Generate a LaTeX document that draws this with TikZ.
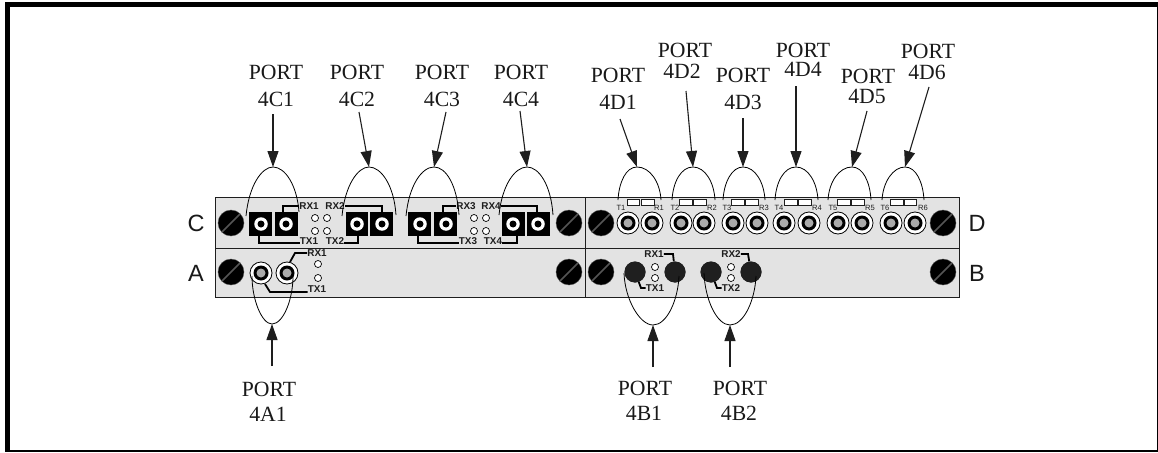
\documentclass[tikz,border=0pt]{standalone}
\usepackage{fontspec}
\setmainfont{Liberation Serif}
\newfontfamily\panelfont{Liberation Sans}
\usetikzlibrary{arrows.meta}
\definecolor{panelgray}{RGB}{227,227,227}
\definecolor{linegray}{RGB}{30,30,30}
\definecolor{slotgray}{RGB}{85,85,85}
\definecolor{coregray}{RGB}{170,170,170}
\tikzset{
  portlbl/.style={anchor=base,inner sep=0pt,text=black!90,font=\fontsize{21.7}{24}\selectfont},
  sidelbl/.style={inner sep=0pt,text=black!90,font=\panelfont\fontsize{23.5}{26}\selectfont},
  smalllbl/.style={inner sep=0pt,text=linegray,font=\panelfont\bfseries\fontsize{9.9}{11}\selectfont},
  tinylbl/.style={inner sep=0pt,text=linegray,font=\panelfont\fontsize{7.6}{9}\selectfont},
  portarrow/.style={draw=linegray,line width=1.1pt,-{Triangle[length=16pt,width=11pt]}},
  portarc/.style={draw=black,line width=0.8pt},
  wire/.style={draw=black,line width=1.8pt},
  screw/.style={circle,fill=black,draw=slotgray,line width=0.4pt,minimum size=26pt,inner sep=0pt,
    path picture={\draw[slotgray,line width=1.5pt] (path picture bounding box.center)+(-9,9) -- +(9,-9);}},
  coax/.style={circle,fill=white,draw=black,line width=0.8pt,minimum size=22pt,inner sep=0pt,
    path picture={\fill[black] (path picture bounding box.center) circle (7.5pt);
      \fill[coregray] (path picture bounding box.center) circle (4.5pt);}},
  fiber/.style={circle,fill=white,minimum size=13.5pt,inner sep=0pt,
    path picture={\fill[black] (path picture bounding box.center) circle (3.5pt);}},
  blackport/.style={circle,fill=black!88,minimum size=21pt,inner sep=0pt},
  led/.style={circle,fill=white,draw=black,line width=0.7pt,minimum size=7pt,inner sep=0pt},
  slot/.style={fill=white,draw=linegray,line width=0.6pt},
  block/.style={fill=black}
}
\begin{document}
\begin{tikzpicture}[x=1pt,y=-1pt]
  \useasboundingbox (0,0) rectangle (1158,452);

  % Cadre
  \fill[black] (5,2) rectangle (1158,452);
  \fill[white] (10,7) rectangle (1156.5,449.5);

  % Panneaux
  \filldraw[fill=panelgray,draw=linegray,line width=1pt] (215,197) rectangle (959,297);
  \draw[linegray,line width=1pt] (215,248) -- (959,248);
  \draw[linegray,line width=1pt] (585,197) -- (585,297);

  % Vis
  \node[screw] (screwCl) at (231,223) {};
  \node[screw] (screwCr) at (569,223) {};
  \node[screw] (screwDl) at (601,223) {};
  \node[screw] (screwDr) at (943,223) {};
  \node[screw] (screwAl) at (231,272) {};
  \node[screw] (screwAr) at (569,272) {};
  \node[screw] (screwBl) at (601,272) {};
  \node[screw] (screwBr) at (943,272) {};

  % Lettres
  \node[sidelbl] (sideC) at (196,223) {C};
  \node[sidelbl] (sideA) at (196,273) {A};
  \node[sidelbl] (sideD) at (977,223) {D};
  \node[sidelbl] (sideB) at (977,273) {B};

  % Blocs C
  \fill[block] (249,212) rectangle (272,236);
  \fill[block] (275,212) rectangle (298,236);
  \fill[block] (346,212) rectangle (368,236);
  \fill[block] (370,212) rectangle (393,236);
  \fill[block] (408,212) rectangle (431,236);
  \fill[block] (434,212) rectangle (457,236);
  \fill[block] (502,212) rectangle (525,236);
  \fill[block] (527,212) rectangle (550,236);
  \node[fiber] (fibC1a) at (261,224) {};
  \node[fiber] (fibC1b) at (286,224) {};
  \node[fiber] (fibC2a) at (357,224) {};
  \node[fiber] (fibC2b) at (382,224) {};
  \node[fiber] (fibC3a) at (420,224) {};
  \node[fiber] (fibC3b) at (446,224) {};
  \node[fiber] (fibC4a) at (513,224) {};
  \node[fiber] (fibC4b) at (538,224) {};

  % Diodes C
  \node[led] (ledC1) at (315,218) {};
  \node[led] (ledC2) at (327,218) {};
  \node[led] (ledC3) at (315,231) {};
  \node[led] (ledC4) at (327,231) {};
  \node[led] (ledC5) at (474,218) {};
  \node[led] (ledC6) at (486,218) {};
  \node[led] (ledC7) at (474,231) {};
  \node[led] (ledC8) at (486,231) {};

  % Textes C
  \node[smalllbl] (rxC1) at (309,206) {RX1};
  \node[smalllbl] (rxC2) at (335,206) {RX2};
  \node[smalllbl] (txC1) at (309,241) {TX1};
  \node[smalllbl] (txC2) at (335,241) {TX2};
  \node[smalllbl] (rxC3) at (466,206) {RX3};
  \node[smalllbl] (rxC4) at (491,206) {RX4};
  \node[smalllbl] (txC3) at (468,241) {TX3};
  \node[smalllbl] (txC4) at (493,241) {TX4};

  % Fils C
  \draw[wire] (rxC1.west) -- (283,206) -- (283,212);
  \draw[wire] (259,236) -- (259,243) -- (txC1.west |- 0,243);
  \draw[wire] (rxC2.east) -- (382,206) -- (382,212);
  \draw[wire] (358,236) -- (358,243) -- (txC2.east |- 0,243);
  \draw[wire] (rxC3.west) -- (443,206) -- (443,212);
  \draw[wire] (418,236) -- (418,243) -- (txC3.west |- 0,243);
  \draw[wire] (rxC4.east) -- (537,206) -- (537,212);
  \draw[wire] (517,236) -- (517,243) -- (txC4.east |- 0,243);

  % Coax D
  \node[coax] (coaxT1) at (628,223) {};
  \node[coax] (coaxR1) at (652,223) {};
  \node[coax] (coaxT2) at (681,223) {};
  \node[coax] (coaxR2) at (704,223) {};
  \node[coax] (coaxT3) at (733,223) {};
  \node[coax] (coaxR3) at (757,223) {};
  \node[coax] (coaxT4) at (784,223) {};
  \node[coax] (coaxR4) at (809,223) {};
  \node[coax] (coaxT5) at (838,223) {};
  \node[coax] (coaxR5) at (862,223) {};
  \node[coax] (coaxT6) at (891,223) {};
  \node[coax] (coaxR6) at (915,223) {};

  % Fentes D
  \draw[slot] (627,199) rectangle (639,205);
  \draw[slot] (641,199) rectangle (654,205);
  \draw[slot] (679,199) rectangle (692,205);
  \draw[slot] (693,199) rectangle (706,205);
  \draw[slot] (731,199) rectangle (744,205);
  \draw[slot] (745,199) rectangle (758,205);
  \draw[slot] (784,199) rectangle (797,205);
  \draw[slot] (798,199) rectangle (811,205);
  \draw[slot] (837,199) rectangle (850,205);
  \draw[slot] (851,199) rectangle (864,205);
  \draw[slot] (890,199) rectangle (903,205);
  \draw[slot] (904,199) rectangle (916,205);

  % Textes D
  \node[tinylbl] (lblT1) at (621,208) {T1};
  \node[tinylbl] (lblR1) at (659,208) {R1};
  \node[tinylbl] (lblT2) at (675,208) {T2};
  \node[tinylbl] (lblR2) at (712,208) {R2};
  \node[tinylbl] (lblT3) at (727,208) {T3};
  \node[tinylbl] (lblR3) at (764,208) {R3};
  \node[tinylbl] (lblT4) at (779,208) {T4};
  \node[tinylbl] (lblR4) at (817,208) {R4};
  \node[tinylbl] (lblT5) at (833,208) {T5};
  \node[tinylbl] (lblR5) at (870,208) {R5};
  \node[tinylbl] (lblT6) at (885,208) {T6};
  \node[tinylbl] (lblR6) at (923,208) {R6};

  % Rangee A
  \node[coax] (coaxA1) at (261,273) {};
  \node[coax] (coaxA2) at (287,273) {};
  \node[led] (ledA1) at (318,264) {};
  \node[led] (ledA2) at (318,278) {};
  \node[smalllbl] (rxA1) at (317,253) {RX1};
  \node[smalllbl] (txA1) at (317,289) {TX1};
  \draw[wire] (rxA1.west) -- (295,253) -- (290,262);
  \draw[wire] (265,284) -- (270,292) -- (txA1.west |- 0,292);

  % Rangee B
  \node[blackport] (blkB1) at (635,272) {};
  \node[blackport] (blkB2) at (675,272) {};
  \node[blackport] (blkB3) at (711,272) {};
  \node[blackport] (blkB4) at (751,272) {};
  \node[led] (ledB1) at (655,267) {};
  \node[led] (ledB2) at (655,278) {};
  \node[led] (ledB3) at (731,267) {};
  \node[led] (ledB4) at (731,278) {};
  \node[smalllbl] (rxB1) at (654,254) {RX1};
  \node[smalllbl] (txB1) at (655,288) {TX1};
  \node[smalllbl] (rxB2) at (731,254) {RX2};
  \node[smalllbl] (txB2) at (731,288) {TX2};
  \draw[wire] (rxB1.east) -- (673,254) -- (blkB2);
  \draw[wire] (blkB1) -- (641,288) -- (txB1.west);
  \draw[wire] (rxB2.east) -- (748,254) -- (blkB4);
  \draw[wire] (blkB3) -- (717,288) -- (txB2.west);
  \node[blackport] at (blkB1) {};
  \node[blackport] at (blkB2) {};
  \node[blackport] at (blkB3) {};
  \node[blackport] at (blkB4) {};

  % Arcs
  \coordinate (top4C1) at (273,167);
  \coordinate (top4C2) at (369,167);
  \coordinate (top4C3) at (434,167);
  \coordinate (top4C4) at (527,167);
  \coordinate (top4D1) at (637,167);
  \coordinate (top4D2) at (693,167);
  \coordinate (top4D3) at (743,167);
  \coordinate (top4D4) at (796,167);
  \coordinate (top4D5) at (852,167);
  \coordinate (top4D6) at (905,167);
  \coordinate (top4A1) at (272,324);
  \coordinate (top4B1) at (653,325);
  \coordinate (top4B2) at (730,325);
  \draw[portarc] (246,216) .. controls (249,185) and (262,167) .. (top4C1) .. controls (285,167) and (297,185) .. (299,212);
  \draw[portarc] (342,216) .. controls (345,185) and (358,167) .. (top4C2) .. controls (381,167) and (394,185) .. (396,215);
  \draw[portarc] (406,216) .. controls (409,185) and (422,167) .. (top4C3) .. controls (446,167) and (457,185) .. (459,215);
  \draw[portarc] (499,215) .. controls (502,185) and (515,167) .. (top4C4) .. controls (539,167) and (551,185) .. (553,215);
  \draw[portarc] (618,200) .. controls (619,182) and (626,167) .. (top4D1) .. controls (650,167) and (660,182) .. (661,200);
  \draw[portarc] (672,200) .. controls (673,182) and (681,167) .. (top4D2) .. controls (705,167) and (714,182) .. (715,200);
  \draw[portarc] (723,200) .. controls (724,182) and (732,167) .. (top4D3) .. controls (755,167) and (764,182) .. (765,200);
  \draw[portarc] (775,200) .. controls (776,182) and (784,167) .. (top4D4) .. controls (808,167) and (817,182) .. (818,200);
  \draw[portarc] (828,200) .. controls (829,182) and (839,167) .. (top4D5) .. controls (863,167) and (870,182) .. (871,200);
  \draw[portarc] (882,200) .. controls (883,182) and (893,167) .. (top4D6) .. controls (916,167) and (923,182) .. (924,200);
  \draw[portarc] (252,276) .. controls (252,300) and (262,324) .. (top4A1) .. controls (283,324) and (293,300) .. (293,276);
  \draw[portarc] (624,273) .. controls (625,300) and (640,325) .. (top4B1) .. controls (667,325) and (678,300) .. (679,276);
  \draw[portarc] (704,273) .. controls (705,300) and (717,325) .. (top4B2) .. controls (744,325) and (755,300) .. (756,276);

  % Etiquettes
  \node[portlbl] (port4C1) at (276,79) {PORT};
  \node[portlbl] (name4C1) at (276,106) {4C1};
  \node[portlbl] (port4C2) at (357,79) {PORT};
  \node[portlbl] (name4C2) at (357,106) {4C2};
  \node[portlbl] (port4C3) at (442,79) {PORT};
  \node[portlbl] (name4C3) at (442,106) {4C3};
  \node[portlbl] (port4C4) at (521,79) {PORT};
  \node[portlbl] (name4C4) at (521,106) {4C4};
  \node[portlbl] (port4D1) at (618,82) {PORT};
  \node[portlbl] (name4D1) at (618,109) {4D1};
  \node[portlbl] (port4D2) at (685,58) {PORT};
  \node[portlbl] (name4D2) at (682,78) {4D2};
  \node[portlbl] (port4D3) at (743,82) {PORT};
  \node[portlbl] (name4D3) at (743,109) {4D3};
  \node[portlbl] (port4D4) at (803,58) {PORT};
  \node[portlbl] (name4D4) at (803,77) {4D4};
  \node[portlbl] (port4D5) at (868,83) {PORT};
  \node[portlbl] (name4D5) at (867,103) {4D5};
  \node[portlbl] (port4D6) at (928,59) {PORT};
  \node[portlbl] (name4D6) at (927,79) {4D6};
  \node[portlbl] (port4A1) at (269,396) {PORT};
  \node[portlbl] (name4A1) at (268,421) {4A1};
  \node[portlbl] (port4B1) at (645,395) {PORT};
  \node[portlbl] (name4B1) at (644,420) {4B1};
  \node[portlbl] (port4B2) at (740,395) {PORT};
  \node[portlbl] (name4B2) at (739,420) {4B2};

  % Fleches
  \draw[portarrow] (273,114) -- (top4C1);
  \draw[portarrow] (359,112) -- (top4C2);
  \draw[portarrow] (446,112) -- (top4C3);
  \draw[portarrow] (520,111) -- (top4C4);
  \draw[portarrow] (620,119) -- (top4D1);
  \draw[portarrow] (686,91) -- (top4D2);
  \draw[portarrow] (743,118) -- (top4D3);
  \draw[portarrow] (796,86) -- (top4D4);
  \draw[portarrow] (867,111) -- (top4D5);
  \draw[portarrow] (929,87) -- (top4D6);
  \draw[portarrow] (272,366) -- (top4A1);
  \draw[portarrow] (653,367) -- (top4B1);
  \draw[portarrow] (730,367) -- (top4B2);
\end{tikzpicture}
\end{document}
